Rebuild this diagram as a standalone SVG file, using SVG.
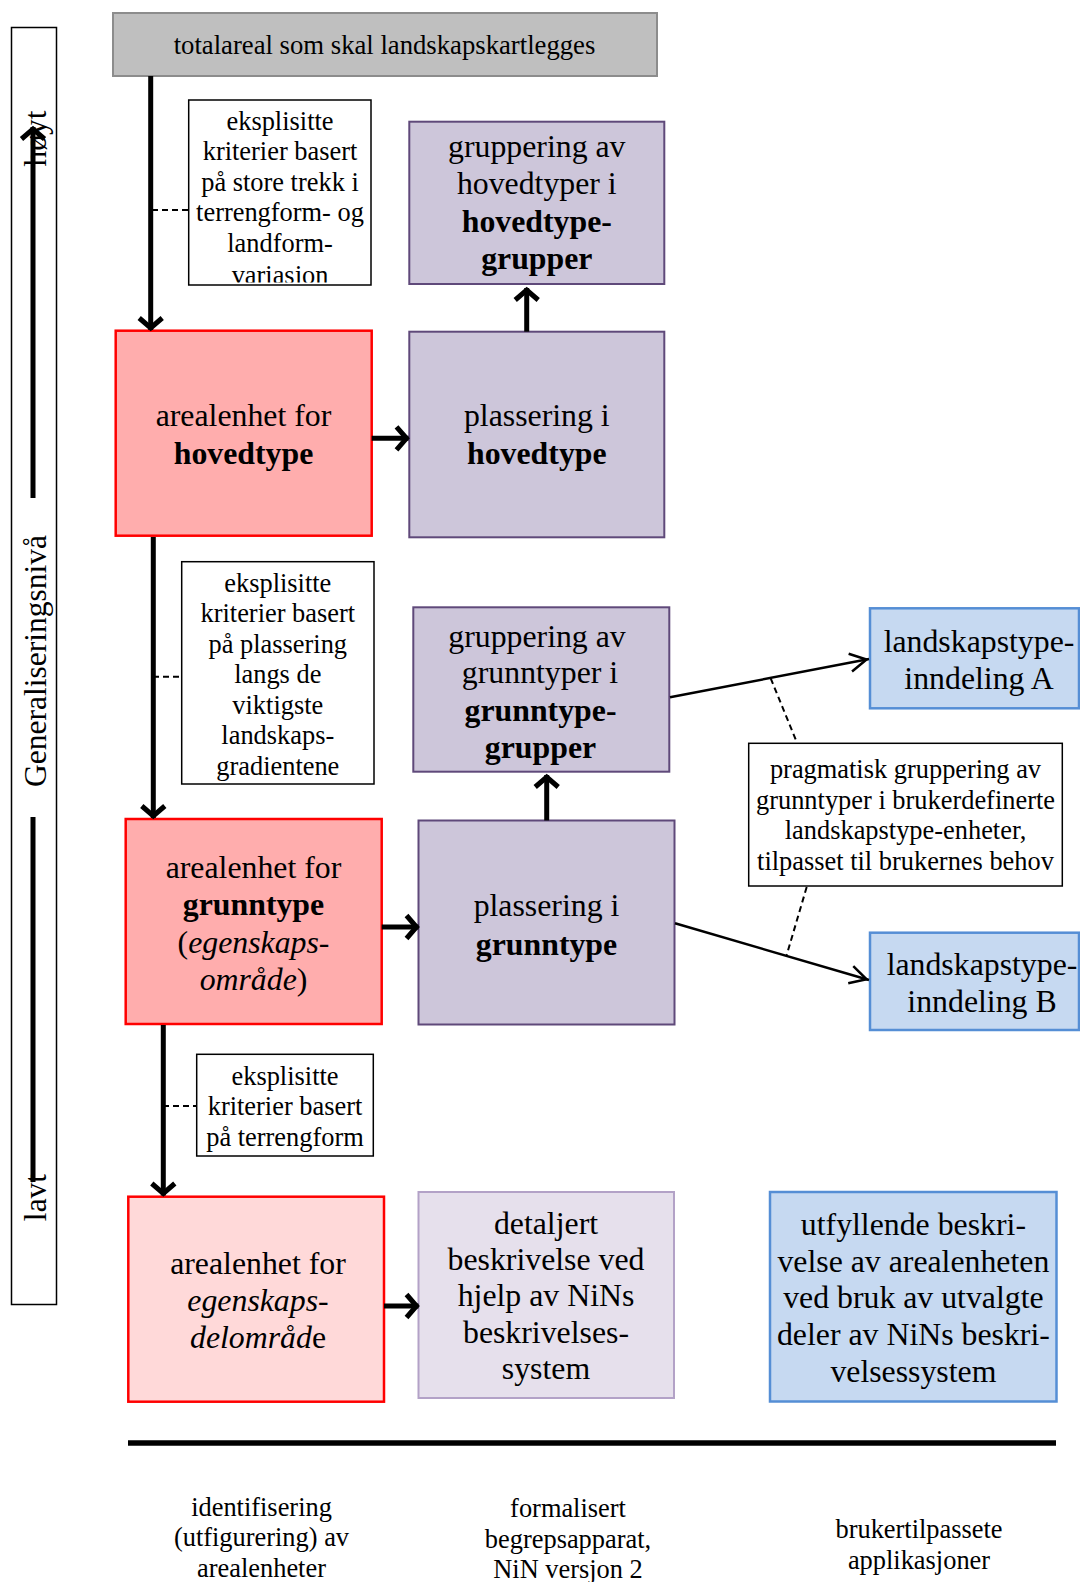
<svg xmlns="http://www.w3.org/2000/svg" width="1080" height="1582" viewBox="0 0 1080 1582">
<style>
.t{font-family:"Liberation Serif","Times New Roman",serif;text-anchor:middle;fill:#000}
.lg{font-size:31.8px}
.sm{font-size:26.4px}
.bt{font-size:26.4px}
.ax{font-size:31.5px}
.b{font-weight:bold}
.i{font-style:italic}
.lbl{fill:#fff;stroke:#000;stroke-width:1.5}
.red{fill:#ffadad;stroke:#ff0000;stroke-width:2.5}
.lred{fill:#ffd9d9;stroke:#ff0000;stroke-width:2.5}
.pur{fill:#cdc6da;stroke:#5f497a;stroke-width:2}
.lpur{fill:#e6e0ec;stroke:#b3a2c7;stroke-width:2}
.blue{fill:#c6d9f1;stroke:#558ed5;stroke-width:2.5}
.thick{fill:none;stroke:#000;stroke-width:5;marker-end:url(#ah)}
.thin{fill:none;stroke:#000;stroke-width:2.5;marker-end:url(#ahs)}
.dash{fill:none;stroke:#000;stroke-width:2;stroke-dasharray:6 4}
</style>
<defs>
<marker id="ah" viewBox="-16 -16 20 32" markerWidth="20" markerHeight="32" refX="0" refY="0" orient="auto" markerUnits="userSpaceOnUse" overflow="visible">
<path d="M-12,-11.5 L-2,0 L-12,11.5" fill="none" stroke="#000" stroke-width="5" stroke-linejoin="miter"/>
</marker>
<marker id="ahs" viewBox="-20 -12 24 24" markerWidth="24" markerHeight="24" refX="0" refY="0" orient="auto" markerUnits="userSpaceOnUse" overflow="visible">
<path d="M-19,-9 L-2.5,0 L-19,9" fill="none" stroke="#000" stroke-width="2.5" stroke-linejoin="miter"/>
</marker>
<clipPath id="c1"><rect x="188" y="99" width="184" height="183.5"/></clipPath>
</defs>
<rect width="1080" height="1582" fill="#fff"/>

<g id="axis">
<rect x="11.5" y="27.5" width="45" height="1277" fill="#fff" stroke="#000" stroke-width="1.5"/>
<text class="t ax" transform="translate(46,138.5) rotate(-90)" x="0" y="0">høyt</text>
<text class="t ax" transform="translate(46,661) rotate(-90)" x="0" y="0">Generaliseringsnivå</text>
<text class="t ax" transform="translate(46,1197.5) rotate(-90)" x="0" y="0">lavt</text>
<path class="thick" d="M33,498 L33,127"/>
<path d="M33,817 L33,1182" fill="none" stroke="#000" stroke-width="5"/>
</g>

<g id="totalareal">
<rect x="113" y="13" width="544" height="63" fill="#bfbfbf" stroke="#8c8c8c" stroke-width="2"/>
<text class="t sm" style="font-size:26.7px" x="384.5" y="54">totalareal som skal landskapskartlegges</text>
</g>

<g id="kriterier1">
<rect class="lbl" x="188.7" y="100" width="182.3" height="185"/>
<g clip-path="url(#c1)">
<text class="t sm"><tspan x="280" y="130">eksplisitte</tspan><tspan x="280" y="160.4">kriterier basert</tspan><tspan x="280" y="190.8">på store trekk i</tspan><tspan x="280" y="221.2">terrengform- og</tspan><tspan x="280" y="251.6">landform-</tspan><tspan x="280" y="284">variasjon</tspan></text>
</g>
</g>

<g id="gruppering-hovedtyper">
<rect class="pur" x="409.3" y="121.7" width="255" height="162.3"/>
<text class="t lg"><tspan x="536.8" y="157">gruppering av</tspan><tspan x="536.8" y="194">hovedtyper i</tspan><tspan x="536.8" y="231.5" class="b">hovedtype-</tspan><tspan x="536.8" y="268.5" class="b">grupper</tspan></text>
</g>

<g id="arealenhet-hovedtype">
<rect class="red" x="115.7" y="330.7" width="256" height="205"/>
<text class="t lg"><tspan x="243.5" y="426">arealenhet for</tspan><tspan x="243.5" y="463.7" class="b">hovedtype</tspan></text>
</g>

<g id="plassering-hovedtype">
<rect class="pur" x="409.3" y="331.7" width="255" height="205.6"/>
<text class="t lg"><tspan x="536.8" y="425.5">plassering i</tspan><tspan x="536.8" y="464" class="b">hovedtype</tspan></text>
</g>

<g id="kriterier2">
<rect class="lbl" x="181.7" y="561.7" width="192.3" height="222.3"/>
<text class="t sm"><tspan x="277.8" y="591.5">eksplisitte</tspan><tspan x="277.8" y="622">kriterier basert</tspan><tspan x="277.8" y="652.5">på plassering</tspan><tspan x="277.8" y="683">langs de</tspan><tspan x="277.8" y="713.5">viktigste</tspan><tspan x="277.8" y="744">landskaps-</tspan><tspan x="277.8" y="774.5">gradientene</tspan></text>
</g>

<g id="gruppering-grunntyper">
<rect class="pur" x="413.3" y="607.3" width="256" height="164.4"/>
<text class="t lg"><tspan x="537" y="646.5">gruppering av</tspan><tspan x="540" y="683">grunntyper i</tspan><tspan x="540.5" y="721" class="b">grunntype-</tspan><tspan x="540.5" y="758" class="b">grupper</tspan></text>
</g>

<g id="arealenhet-grunntype">
<rect class="red" x="125.7" y="819" width="256" height="205"/>
<text class="t lg"><tspan x="253.5" y="877.5">arealenhet for</tspan><tspan x="253.5" y="915" class="b">grunntype</tspan><tspan x="253.5" y="952.5">(<tspan class="i">egenskaps-</tspan></tspan><tspan x="253.5" y="990"><tspan class="i">område</tspan>)</tspan></text>
</g>

<g id="plassering-grunntype">
<rect class="pur" x="418.5" y="820.5" width="256" height="204"/>
<text class="t lg"><tspan x="546.5" y="916">plassering i</tspan><tspan x="546.5" y="954.5" class="b">grunntype</tspan></text>
</g>

<g id="landskapstype-A">
<rect class="blue" x="870" y="608.3" width="209" height="100"/>
<text class="t lg"><tspan x="979" y="652">landskapstype-</tspan><tspan x="979" y="689">inndeling A</tspan></text>
</g>

<g id="pragmatisk">
<rect class="lbl" x="748.7" y="743.3" width="313.6" height="142.7"/>
<text class="t sm"><tspan x="905.5" y="778">pragmatisk gruppering av</tspan><tspan x="905.5" y="808.5">grunntyper i brukerdefinerte</tspan><tspan x="905.5" y="839">landskapstype-enheter,</tspan><tspan x="905.5" y="869.5">tilpasset til brukernes behov</tspan></text>
</g>

<g id="landskapstype-B">
<rect class="blue" x="870" y="932.7" width="209" height="97.3"/>
<text class="t lg"><tspan x="982" y="974.7">landskapstype-</tspan><tspan x="982" y="1012">inndeling B</tspan></text>
</g>

<g id="kriterier3">
<rect class="lbl" x="196.7" y="1054.3" width="176.6" height="101.7"/>
<text class="t sm"><tspan x="285" y="1084.5">eksplisitte</tspan><tspan x="285" y="1115.2">kriterier basert</tspan><tspan x="285" y="1145.9">på terrengform</tspan></text>
</g>

<g id="arealenhet-egenskapsdelomrade">
<rect class="lred" x="128.3" y="1196.7" width="255.7" height="205"/>
<text class="t lg"><tspan x="258" y="1273.5">arealenhet for</tspan><tspan x="258" y="1310.5" class="i">egenskaps-</tspan><tspan x="258" y="1348"><tspan class="i">delområd</tspan>e</tspan></text>
</g>

<g id="detaljert-beskrivelse">
<rect class="lpur" x="418.5" y="1192" width="255.5" height="206"/>
<text class="t lg"><tspan x="546" y="1233.5">detaljert</tspan><tspan x="546" y="1270">beskrivelse ved</tspan><tspan x="546" y="1306">hjelp av NiNs</tspan><tspan x="546" y="1342.5">beskrivelses-</tspan><tspan x="546" y="1379">system</tspan></text>
</g>

<g id="utfyllende-beskrivelse">
<rect class="blue" x="770" y="1192" width="286.5" height="209.5"/>
<text class="t lg"><tspan x="913.4" y="1234.5">utfyllende beskri-</tspan><tspan x="913.4" y="1271.5">velse av arealenheten</tspan><tspan x="913.4" y="1308">ved bruk av utvalgte</tspan><tspan x="913.4" y="1345">deler av NiNs beskri-</tspan><tspan x="913.4" y="1381.5">velsessystem</tspan></text>
</g>

<g id="bottom-labels">
<text class="t bt"><tspan x="261.5" y="1515.5">identifisering</tspan><tspan x="261.5" y="1546">(utfigurering) av</tspan><tspan x="261.5" y="1576.5">arealenheter</tspan></text>
<text class="t bt"><tspan x="568" y="1517">formalisert</tspan><tspan x="568" y="1547.5">begrepsapparat,</tspan><tspan x="568" y="1578">NiN versjon 2</tspan></text>
<text class="t bt"><tspan x="919" y="1537.5">brukertilpassete</tspan><tspan x="919" y="1568.5">applikasjoner</tspan></text>
</g>

<g id="connectors">
<path class="thick" d="M150.7,76 L150.7,330"/>
<path class="dash" d="M152,210 L188.7,210"/>
<path class="thick" d="M371.7,438.3 L408.5,438.3"/>
<path class="thick" d="M526.7,331.7 L526.7,288"/>
<path class="thick" d="M153.3,537 L153.3,818"/>
<path class="dash" d="M153,676.7 L181.7,676.7"/>
<path class="thick" d="M381.7,927 L418.5,927"/>
<path class="thick" d="M546.7,820.5 L546.7,775"/>
<path class="thick" d="M163.3,1025 L163.3,1195.5"/>
<path class="dash" d="M163,1106 L196.7,1106"/>
<path class="thick" d="M384,1306 L418.5,1306"/>
<path class="thin" d="M670,697.3 L869,659"/>
<path class="thin" d="M675,923.3 L869,980"/>
<path class="dash" d="M770.7,678.3 L796.7,742"/>
<path class="dash" d="M806.7,887 L786.7,955"/>
<path d="M128,1443 L1056,1443" fill="none" stroke="#000" stroke-width="5.5"/>
</g>
</svg>
